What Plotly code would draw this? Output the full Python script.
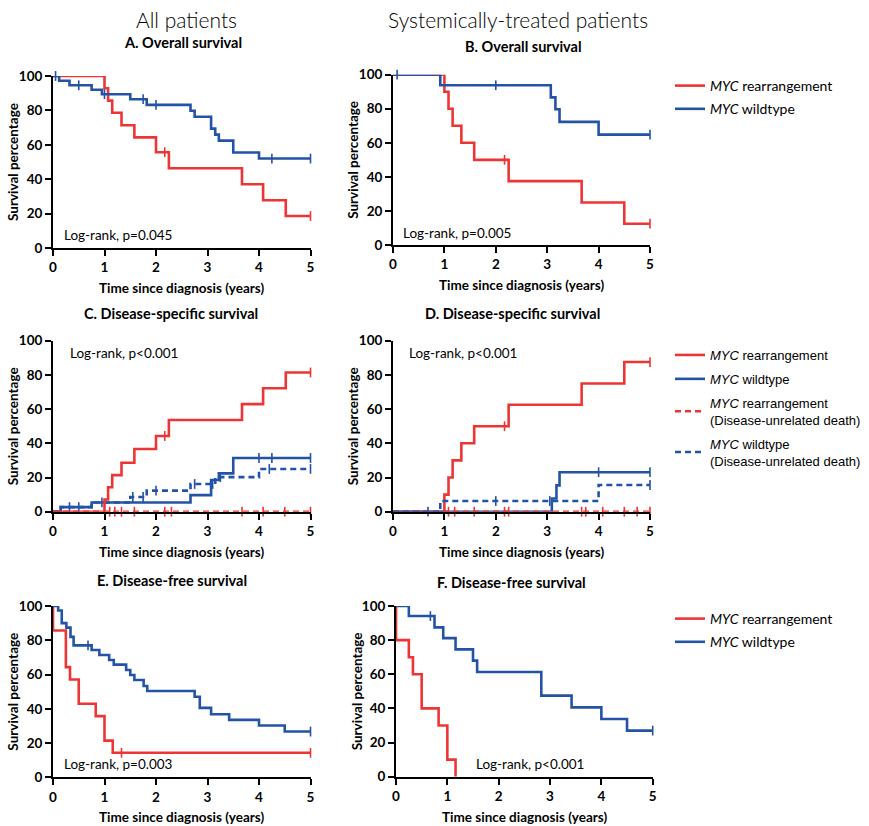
import plotly.graph_objects as go

# ---------------- data (step change points, survival %) ----------------
A_red_t = [0, 1.0, 1.07, 1.15, 1.33, 1.58, 2.0, 2.25, 3.67, 4.08, 4.52, 5.0]
A_red_s = [100, 92.9, 85.7, 78.6, 71.4, 64.3, 55.7, 46.4, 37.1, 27.8, 18.6, 18.6]
A_red_c = [2.17, 5.0]
A_blue_t = [0, 0.12, 0.32, 0.75, 0.95, 1.5, 1.82, 2.67, 2.75, 3.07, 3.15, 3.22, 3.5, 4.0, 5.0]
A_blue_s = [100, 97.2, 94.6, 92.0, 89.4, 86.5, 83.2, 79.8, 76.3, 69.4, 65.9, 62.4, 55.5, 52.0, 52.0]
A_blue_c = [0.05, 0.5, 1.0, 1.75, 2.0, 4.25, 5.0]

B_red_t = [0, 1.0, 1.08, 1.16, 1.33, 1.58, 2.25, 3.67, 4.5, 5.0]
B_red_s = [100, 90, 80, 70, 60, 50, 37.5, 25, 12.5, 12.5]
B_red_c = [2.17, 5.0]
B_blue_t = [0, 0.92, 3.07, 3.16, 3.24, 4.0, 5.0]
B_blue_s = [100, 93.8, 86.7, 79.7, 72.3, 64.8, 64.8]
B_blue_c = [0.08, 2.0, 5.0]

C_red_t = [0, 1.0, 1.07, 1.15, 1.33, 1.58, 2.0, 2.25, 3.67, 4.08, 4.52, 5.0]
C_red_s = [0, 7.1, 14.3, 21.4, 28.6, 36.7, 44.3, 53.6, 62.9, 72.2, 81.4, 81.4]
C_red_c = [2.17, 5.0]
C_blue_t = [0, 0.15, 0.75, 2.67, 3.07, 3.22, 3.5, 5.0]
C_blue_s = [0, 2.7, 5.4, 9.7, 18.5, 22.4, 31.4, 31.4]
C_blue_c = [0.32, 0.5, 0.95, 4.0, 4.25, 5.0]
C_bdash_t = [0, 0.15, 0.75, 1.5, 1.82, 2.67, 3.15, 4.0, 5.0]
C_bdash_s = [0, 2.7, 5.4, 8.6, 12.3, 16.2, 20.2, 25.0, 25.0]
C_bdash_c = [1.55, 1.75, 2.0, 2.75, 3.1, 3.25, 4.2, 5.0]
C_rdash_t = [0, 5.0]
C_rdash_s = [0, 0]
C_rdash_c = [1.1, 1.2, 1.33, 1.58, 2.17, 2.3, 3.67, 4.08, 4.5, 5.0]

D_red_t = [0, 1.0, 1.08, 1.16, 1.33, 1.58, 2.25, 3.67, 4.5, 5.0]
D_red_s = [0, 10, 20, 30, 40, 50, 62.5, 75, 87.5, 87.5]
D_red_c = [2.17, 5.0]
D_blue_t = [0, 3.09, 3.18, 3.24, 5.0]
D_blue_s = [0, 7.7, 15.4, 23.1, 23.1]
D_blue_c = [0.68, 4.0, 5.0]
D_bdash_t = [0, 0.92, 4.0, 5.0]
D_bdash_s = [0, 6.25, 15.6, 15.6]
D_bdash_c = [2.0, 3.05, 5.0]
D_rdash_t = [0, 5.0]
D_rdash_s = [0, 0]
D_rdash_c = [1.08, 1.2, 1.58, 2.17, 2.25, 3.67, 3.75, 4.08, 4.5, 4.75, 5.0]

E_red_t = [0, 0, 0.25, 0.33, 0.5, 0.83, 1.0, 1.16, 5.0]
E_red_s = [100, 85.7, 64.3, 57.1, 42.9, 35.7, 21.4, 14.3, 14.3]
E_red_c = [1.33, 5.0]
E_blue_t = [0, 0.1, 0.17, 0.26, 0.34, 0.4, 0.75, 0.9, 1.09, 1.18, 1.42, 1.5, 1.58,
            1.76, 1.83, 2.75, 2.85, 3.07, 3.42, 4.0, 4.5, 5.0]
E_blue_s = [100, 97.4, 90.0, 87.4, 82.0, 77.0, 74.3, 71.4, 68.5, 65.8, 62.6, 59.7, 56.8,
            53.3, 50.4, 47.0, 40.5, 36.8, 33.5, 30.2, 26.7, 26.7]
E_blue_c = [0.68, 5.0]

F_red_t = [0, 0, 0.25, 0.33, 0.5, 0.83, 1.0, 1.16]
F_red_s = [100, 80, 70, 60, 40, 30, 10, 0]
F_red_c = []
F_blue_t = [0, 0.25, 0.75, 0.92, 1.16, 1.5, 1.58, 2.83, 3.42, 4.0, 4.5, 5.0]
F_blue_s = [100, 94.1, 87.5, 81.2, 74.6, 68.0, 61.3, 47.5, 40.6, 33.8, 27.0, 27.0]
F_blue_c = [0.67, 5.0]

x_ticks = [0, 1, 2, 3, 4, 5]
y_ticks = [0, 20, 40, 60, 80, 100]
pvals = {"A": "Log-rank, p=0.045", "B": "Log-rank, p=0.005", "C": "Log-rank, p<0.001",
         "D": "Log-rank, p<0.001", "E": "Log-rank, p=0.003", "F": "Log-rank, p<0.001"}
titles = {"A": "A. Overall survival", "B": "B. Overall survival",
          "C": "C. Disease-specific survival", "D": "D. Disease-specific survival",
          "E": "E. Disease-free survival", "F": "F. Disease-free survival"}

RED = "#EE3535"
BLUE = "#2453A6"
W, H = 869, 826
FONT = "Lato, 'Open Sans', sans-serif"


def PX(x):
    return x / W


def PY(y):
    return 1 - y / H


def step_val(ts, ss, t):
    v = ss[0]
    for ti, si in zip(ts, ss):
        if ti <= t:
            v = si
    return v


# panel frames in pixels: x0, x1, ytop, ybottom
frames = {
    "A": (53, 310.5, 76, 248),
    "B": (393, 650, 74.7, 245),
    "C": (53, 310.5, 340.7, 511.7),
    "D": (393, 650, 340.7, 511.7),
    "E": (53, 310.5, 606, 777.3),
    "F": (396, 652.7, 606, 776.7),
}
order = ["A", "B", "C", "D", "E", "F"]

fig = go.Figure()
layout = dict(width=W, height=H, margin=dict(l=0, r=0, t=0, b=0, autoexpand=False),
              paper_bgcolor="white", plot_bgcolor="white",
              font=dict(family=FONT, color="black"), annotations=[])

for i, p in enumerate(order):
    n = "" if i == 0 else str(i + 1)
    x0, x1, yt, yb = frames[p]
    layout["xaxis" + n] = dict(domain=[PX(x0), PX(x1)], range=[0, 5], anchor="y" + n,
                               tickvals=x_ticks, showline=True, linecolor="black", linewidth=2,
                               ticks="outside", ticklen=6, tickwidth=2, tickcolor="black",
                               showgrid=False, zeroline=False, automargin=False,
                               tickfont=dict(size=13.5, family=FONT, weight="bold"))
    layout["yaxis" + n] = dict(domain=[PY(yb), PY(yt)], range=[0, 100], anchor="x" + n,
                               tickvals=y_ticks, showline=True, linecolor="black", linewidth=2,
                               ticks="outside", ticklen=6, tickwidth=2, tickcolor="black",
                               showgrid=False, zeroline=False, automargin=False,
                               tickfont=dict(size=13.5, family=FONT, weight="bold"))
    # axis titles
    layout["annotations"].append(dict(text="<b>Time since diagnosis (years)</b>", xref="paper", yref="paper",
                                      x=PX((x0 + x1) / 2), y=PY(yb + 40), showarrow=False,
                                      font=dict(size=13.5, family=FONT), xanchor="center", yanchor="middle"))
    ytx = 13 if p in "ACE" else (357 if p == "F" else 353)
    layout["annotations"].append(dict(text="<b>Survival percentage</b>", xref="paper", yref="paper",
                                      x=PX(ytx), y=PY((yt + yb) / 2), showarrow=False, textangle=-90,
                                      font=dict(size=13.5, family=FONT), xanchor="center", yanchor="middle"))

# panel titles
title_pos = {"A": (183, 43), "B": (523, 46), "C": (171, 313), "D": (512, 313),
             "E": (172, 580), "F": (511, 582)}
for p in order:
    tx, ty = title_pos[p]
    layout["annotations"].append(dict(text="<b>%s</b>" % titles[p], xref="paper", yref="paper",
                                      x=PX(tx), y=PY(ty), showarrow=False,
                                      font=dict(size=14.5, family=FONT), xanchor="center", yanchor="middle"))
layout["annotations"].append(dict(text="All patients", xref="paper", yref="paper", x=PX(186), y=PY(19),
                                  showarrow=False, font=dict(size=21, family=FONT, weight=300),
                                  xanchor="center", yanchor="middle"))
layout["annotations"].append(dict(text="Systemically-treated patients", xref="paper", yref="paper",
                                  x=PX(518), y=PY(19), showarrow=False,
                                  font=dict(size=21, family=FONT, weight=300),
                                  xanchor="center", yanchor="middle"))

# log-rank labels (data coords)
pv_pos = {"A": (0.17, 7.5), "B": (0.16, 7.0), "C": (0.3, 93), "D": (0.27, 93),
          "E": (0.17, 7.8), "F": (1.52, 7.4)}
for i, p in enumerate(order):
    n = "" if i == 0 else str(i + 1)
    px_, py_ = pv_pos[p]
    layout["annotations"].append(dict(text=pvals[p], xref="x" + n, yref="y" + n, x=px_, y=py_,
                                      showarrow=False, xanchor="left", yanchor="middle",
                                      font=dict(size=13.5, family=FONT)))

LEG_RED = "<i>MYC</i> rearrangement"
LEG_BLUE = "<i>MYC</i> wildtype"
LEG_RED2 = "<i>MYC</i> rearrangement<br>(Disease-unrelated death)"
LEG_BLUE2 = "<i>MYC</i> wildtype<br>(Disease-unrelated death)"


def add_curve(p, ts, ss, cens, color, dash, name=None, legend=None, rank=None):
    i = order.index(p)
    n = "" if i == 0 else str(i + 1)
    show = legend is not None
    grp = "%s%s" % (p, rank) if rank else None
    fig.add_trace(go.Scatter(x=ts, y=ss, mode="lines", line=dict(color=color, width=2.6, shape="hv", dash=dash),
                             xaxis="x" + n, yaxis="y" + n, name=name, showlegend=show,
                             legend=legend if legend else "legend", legendgroup=grp,
                             legendrank=rank if rank else 1000,
                             cliponaxis=False, hoverinfo="skip"))
    if cens:
        cy = [step_val(ts, ss, c) for c in cens]
        fig.add_trace(go.Scatter(x=cens, y=cy, mode="markers",
                                 marker=dict(symbol="line-ns-open", size=7, color=color,
                                             line=dict(color=color, width=1.6)),
                                 xaxis="x" + n, yaxis="y" + n, showlegend=False,
                                 cliponaxis=False, hoverinfo="skip"))


add_curve("A", A_red_t, A_red_s, A_red_c, RED, "solid")
add_curve("A", A_blue_t, A_blue_s, A_blue_c, BLUE, "solid")
add_curve("B", B_red_t, B_red_s, B_red_c, RED, "solid", LEG_RED, "legend", 1)
add_curve("B", B_blue_t, B_blue_s, B_blue_c, BLUE, "solid", LEG_BLUE, "legend", 2)
add_curve("C", C_rdash_t, C_rdash_s, C_rdash_c, RED, "6px,4px")
add_curve("C", C_bdash_t, C_bdash_s, C_bdash_c, BLUE, "6px,4px")
add_curve("C", C_blue_t, C_blue_s, C_blue_c, BLUE, "solid")
add_curve("C", C_red_t, C_red_s, C_red_c, RED, "solid")
add_curve("D", D_red_t, D_red_s, D_red_c, RED, "solid", LEG_RED, "legend2", 1)
add_curve("D", D_blue_t, D_blue_s, D_blue_c, BLUE, "solid", LEG_BLUE, "legend2", 2)
add_curve("D", D_rdash_t, D_rdash_s, D_rdash_c, RED, "6px,4px", LEG_RED2, "legend2", 3)
add_curve("D", D_bdash_t, D_bdash_s, D_bdash_c, BLUE, "6px,4px", LEG_BLUE2, "legend2", 4)
add_curve("E", E_red_t, E_red_s, E_red_c, RED, "solid")
add_curve("E", E_blue_t, E_blue_s, E_blue_c, BLUE, "solid")
add_curve("F", F_red_t, F_red_s, F_red_c, RED, "solid", LEG_RED, "legend3", 1)
add_curve("F", F_blue_t, F_blue_s, F_blue_c, BLUE, "solid", LEG_BLUE, "legend3", 2)

leg_common = dict(bgcolor="rgba(0,0,0,0)", borderwidth=0, xanchor="left", yanchor="top",
                  traceorder="grouped")
layout["legend"] = dict(x=PX(670), y=PY(70), font=dict(size=14, family=FONT), tracegroupgap=2, **leg_common)
layout["legend2"] = dict(x=PX(670), y=PY(340), font=dict(size=13, family="'Liberation Sans', Arial, sans-serif"),
                         tracegroupgap=4, **leg_common)
layout["legend3"] = dict(x=PX(670), y=PY(603), font=dict(size=14, family=FONT), tracegroupgap=2, **leg_common)

fig.update_layout(**layout)
fig.write_html("out.html", config={"displayModeBar": False},
               post_script="document.body.style.margin='0px';document.body.style.overflow='hidden';")
